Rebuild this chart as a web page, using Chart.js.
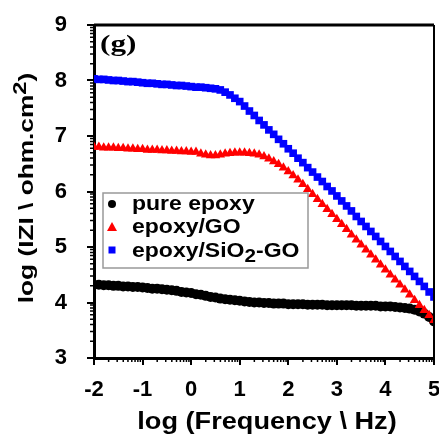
<!DOCTYPE html>
<html lang="en">
<head>
<meta charset="UTF-8">
<title>Bode plot |Z|</title>
<script src="https://cdn.jsdelivr.net/npm/chart.js"></script>
<style>
    * { margin: 0; padding: 0; box-sizing: border-box; }
    body { background: #fff; width: 439px; height: 435px; overflow: hidden; }
    .wrap { position: relative; width: 439px; height: 435px; }
</style>
</head>
<body>
<div class="wrap"><canvas id="bode"></canvas></div>
<script>
// log(frequency / Hz), 10 points per decade
const logFreq = [
    -2.0, -1.9, -1.8, -1.7, -1.6, -1.5, -1.4, -1.3, -1.2, -1.1,
    -1.0, -0.9, -0.8, -0.7, -0.6, -0.5, -0.4, -0.3, -0.2, -0.1,
    0.0, 0.1, 0.2, 0.3, 0.4, 0.5, 0.6, 0.7, 0.8, 0.9,
    1.0, 1.1, 1.2, 1.3, 1.4, 1.5, 1.6, 1.7, 1.8, 1.9,
    2.0, 2.1, 2.2, 2.3, 2.4, 2.5, 2.6, 2.7, 2.8, 2.9,
    3.0, 3.1, 3.2, 3.3, 3.4, 3.5, 3.6, 3.7, 3.8, 3.9,
    4.0, 4.1, 4.2, 4.3, 4.4, 4.5, 4.6, 4.7, 4.8, 4.9, 5.0
];

// log(|Z| / ohm.cm2) for each coating
const pureEpoxy = [
    4.32, 4.32, 4.31, 4.31, 4.30, 4.30, 4.29, 4.29, 4.28, 4.28,
    4.27, 4.26, 4.25, 4.25, 4.24, 4.23, 4.22, 4.21, 4.19, 4.18,
    4.17, 4.15, 4.14, 4.12, 4.10, 4.09, 4.07, 4.06, 4.05, 4.04,
    4.03, 4.02, 4.01, 4.00, 4.00, 3.99, 3.99, 3.98, 3.98, 3.98,
    3.97, 3.97, 3.97, 3.97, 3.96, 3.96, 3.96, 3.96, 3.95, 3.95,
    3.95, 3.95, 3.95, 3.95, 3.94, 3.94, 3.94, 3.94, 3.94, 3.93,
    3.93, 3.93, 3.92, 3.91, 3.90, 3.89, 3.87, 3.84, 3.80, 3.74, 3.66
];
const epoxyGO = [
    6.80, 6.80, 6.79, 6.79, 6.79, 6.78, 6.78, 6.77, 6.77, 6.76,
    6.76, 6.75, 6.75, 6.75, 6.74, 6.74, 6.73, 6.73, 6.72, 6.72,
    6.71, 6.71, 6.68, 6.66, 6.65, 6.65, 6.66, 6.68, 6.69, 6.70,
    6.70, 6.70, 6.69, 6.68, 6.66, 6.63, 6.59, 6.54, 6.49, 6.43,
    6.36, 6.29, 6.21, 6.13, 6.04, 5.95, 5.86, 5.77, 5.68, 5.59,
    5.50, 5.41, 5.32, 5.22, 5.13, 5.04, 4.95, 4.86, 4.77, 4.68,
    4.59, 4.50, 4.41, 4.32, 4.23, 4.14, 4.04, 3.95, 3.86, 3.77, 3.68
];
const epoxySiO2GO = [
    8.03, 8.02, 8.02, 8.01, 8.00, 8.00, 7.99, 7.98, 7.98, 7.97,
    7.96, 7.95, 7.95, 7.94, 7.93, 7.93, 7.92, 7.91, 7.91, 7.90,
    7.89, 7.88, 7.88, 7.87, 7.86, 7.85, 7.83, 7.79, 7.74, 7.68,
    7.62, 7.54, 7.45, 7.37, 7.28, 7.20, 7.11, 7.03, 6.94, 6.86,
    6.77, 6.69, 6.60, 6.52, 6.43, 6.35, 6.26, 6.18, 6.09, 6.01,
    5.92, 5.83, 5.74, 5.65, 5.55, 5.46, 5.37, 5.28, 5.19, 5.10,
    5.01, 4.92, 4.83, 4.74, 4.65, 4.56, 4.47, 4.38, 4.29, 4.19, 4.10
];

const xTickValues = [-2, -1, 0, 1, 2, 3, 4, 5];
const yTickValues = [3, 4, 5, 6, 7, 8, 9];

const FONT = "'Liberation Sans', Arial, sans-serif";

const toPoints = ys => logFreq.map((x, i) => ({ x: x, y: ys[i] }));

// text made of runs (for sub/superscripts), stretched horizontally
function drawRuns(ctx, runs, x, y, sx, align) {
    let total = 0;
    runs.forEach(r => {
        ctx.font = 'bold ' + r.size + 'px ' + FONT;
        r.w = ctx.measureText(r.t).width;
        total += r.w;
    });
    ctx.save();
    ctx.translate(x, y);
    ctx.scale(sx, 1);
    let cx = align === 'center' ? -total / 2 : 0;
    ctx.textAlign = 'left';
    ctx.textBaseline = 'alphabetic';
    runs.forEach(r => {
        ctx.font = 'bold ' + r.size + 'px ' + FONT;
        ctx.fillText(r.t, cx, r.dy || 0);
        cx += r.w;
    });
    ctx.restore();
}

const extras = {
    id: 'extras',
    afterDraw(chart) {
        const { ctx, chartArea: a, scales: { x, y } } = chart;
        ctx.save();
        ctx.fillStyle = '#000';
        ctx.strokeStyle = '#000';

        // top and right frame
        ctx.lineWidth = 3;
        ctx.beginPath();
        ctx.moveTo(a.left, a.top);
        ctx.lineTo(a.right, a.top);
        ctx.stroke();
        ctx.lineWidth = 2;
        ctx.beginPath();
        ctx.moveTo(a.right, a.top);
        ctx.lineTo(a.right, a.bottom);
        ctx.stroke();

        // log-style minor ticks
        ctx.lineWidth = 1.5;
        ctx.beginPath();
        for (let k = -2; k < 5; k++) {
            for (let m = 2; m <= 9; m++) {
                const px = x.getPixelForValue(k + Math.log10(m));
                ctx.moveTo(px, a.bottom);
                ctx.lineTo(px, a.bottom + 4);
            }
        }
        for (let k = 3; k < 9; k++) {
            for (let m = 2; m <= 9; m++) {
                const py = y.getPixelForValue(k + Math.log10(m));
                ctx.moveTo(a.left, py);
                ctx.lineTo(a.left - 4, py);
            }
        }
        ctx.stroke();

        // panel letter
        ctx.save();
        ctx.translate(100, 51);
        ctx.scale(1.3, 1);
        ctx.font = "bold 24px 'Liberation Serif', 'Times New Roman', serif";
        ctx.textAlign = 'left';
        ctx.fillText('(g)', 0, 0);
        ctx.restore();

        // axis titles
        drawRuns(ctx, [{ t: 'log (Frequency \\ Hz)', size: 23 }], 267, 429, 1.18, 'center');
        ctx.save();
        ctx.translate(33, 188);
        ctx.rotate(-Math.PI / 2);
        drawRuns(ctx, [
            { t: 'log (IZI \\ ohm.cm', size: 21 },
            { t: '2', size: 19, dy: -7 },
            { t: ')', size: 21 }
        ], 0, 0, 1.25, 'center');
        ctx.restore();

        // legend
        ctx.fillStyle = '#fff';
        ctx.fillRect(103, 193, 205, 75);
        ctx.strokeStyle = '#999';
        ctx.lineWidth = 1.5;
        ctx.strokeRect(103, 193, 205, 75);

        ctx.fillStyle = '#000';
        ctx.beginPath();
        ctx.arc(112, 204, 4, 0, Math.PI * 2);
        ctx.fill();
        ctx.fillStyle = '#ff0000';
        ctx.beginPath();
        ctx.moveTo(112, 222);
        ctx.lineTo(117, 231);
        ctx.lineTo(107, 231);
        ctx.closePath();
        ctx.fill();
        ctx.fillStyle = '#0000ff';
        ctx.fillRect(108.5, 246.5, 7, 7);

        ctx.fillStyle = '#000';
        drawRuns(ctx, [{ t: 'pure epoxy', size: 20 }], 132, 210, 1.15, 'left');
        drawRuns(ctx, [{ t: 'epoxy/GO', size: 20 }], 132, 233, 1.15, 'left');
        drawRuns(ctx, [
            { t: 'epoxy/SiO', size: 20 },
            { t: '2', size: 18, dy: 5 },
            { t: '-GO', size: 20 }
        ], 132, 257, 1.15, 'left');

        ctx.restore();
    }
};

const axisCommon = {
    type: 'linear',
    grid: { display: true, drawOnChartArea: false, drawTicks: true, tickLength: 7, color: '#000', lineWidth: 2 },
    border: { display: true, color: '#000', width: 3 },
    ticks: { color: '#000', font: { family: FONT, size: 22, weight: 'bold' } }
};

new Chart(document.getElementById('bode'), {
    type: 'scatter',
    data: {
        datasets: [
            {
                label: 'pure epoxy',
                data: toPoints(pureEpoxy),
                pointStyle: 'circle',
                pointRadius: 5,
                backgroundColor: '#000',
                borderColor: '#000',
                borderWidth: 0,
                order: 2
            },
            {
                label: 'epoxy/GO',
                data: toPoints(epoxyGO),
                pointStyle: 'triangle',
                pointRadius: 5.5,
                backgroundColor: '#ff0000',
                borderColor: '#ff0000',
                borderWidth: 0,
                order: 1
            },
            {
                label: 'epoxy/SiO2-GO',
                data: toPoints(epoxySiO2GO),
                pointStyle: 'rect',
                pointRadius: 5.4,
                backgroundColor: '#0000ff',
                borderColor: '#0000ff',
                borderWidth: 0,
                order: 0
            }
        ]
    },
    options: {
        responsive: true,
        maintainAspectRatio: false,
        animation: false,
        layout: { autoPadding: false, padding: { left: 0, top: 25, right: 5, bottom: 0 } },
        plugins: { legend: { display: false }, tooltip: { enabled: false } },
        scales: {
            x: Object.assign({}, axisCommon, {
                min: -2, max: 5,
                afterBuildTicks: s => { s.ticks = xTickValues.map(v => ({ value: v })); },
                afterFit: s => { s.height = 77; s.paddingLeft = 0; s.paddingRight = 0; },
                ticks: Object.assign({}, axisCommon.ticks, { padding: 12, maxRotation: 0, autoSkip: false })
            }),
            y: Object.assign({}, axisCommon, {
                min: 3, max: 9,
                afterBuildTicks: s => { s.ticks = yTickValues.map(v => ({ value: v })); },
                afterFit: s => { s.width = 94; s.paddingTop = 0; s.paddingBottom = 0; },
                ticks: Object.assign({}, axisCommon.ticks, { padding: 20, autoSkip: false })
            })
        }
    },
    plugins: [extras]
});
</script>
</body>
</html>
